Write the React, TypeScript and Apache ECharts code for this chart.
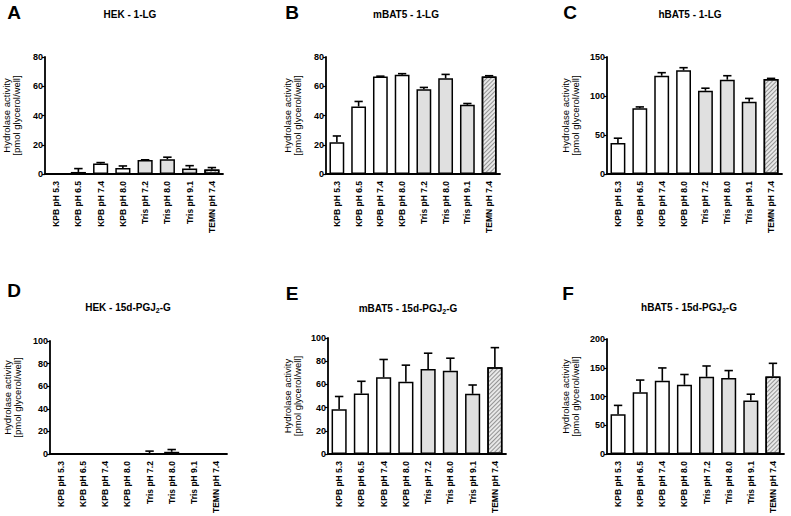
import React, { useEffect, useRef } from "react";
import * as echarts from "echarts";

const categories = ["KPB pH 5.3", "KPB pH 6.5", "KPB pH 7.4", "KPB pH 8.0", "Tris pH 7.2", "Tris pH 8.0", "Tris pH 9.1", "TEMN pH 7.4"];
const bufferType = ["KPB", "KPB", "KPB", "KPB", "Tris", "Tris", "Tris", "TEMN"];

const hek1lgMean = [0, 1.4, 7.1, 4.1, 9.5, 10.1, 3.7, 3.0];
const hek1lgSd = [0, 2.3, 0.7, 1.4, 0.2, 1.4, 2.0, 1.4];
const mbat1lgMean = [21.7, 46.2, 66.7, 67.9, 58.0, 65.4, 47.3, 66.7];
const mbat1lgSd = [4.3, 3.4, 0.2, 0.7, 1.2, 2.7, 0.9, 0.5];
const hbat1lgMean = [39.9, 84.4, 126.0, 132.9, 106.7, 120.9, 92.6, 121.7];
const hbat1lgSd = [6.0, 1.6, 3.9, 3.4, 3.3, 5.1, 4.3, 0.9];
const hekPgMean = [0, 0, 0, 0, 0.3, 2.0, 0, 0];
const hekPgSd = [0, 0, 0, 0, 2.3, 2.0, 0, 0];
const mbatPgMean = [38.7, 52.1, 66.1, 62.4, 73.2, 71.8, 51.9, 74.9];
const mbatPgSd = [10.9, 10.6, 15.4, 14.2, 13.7, 10.8, 7.6, 16.8];
const hbatPgMean = [69.1, 107.4, 127.4, 120.6, 134.3, 132.0, 93.1, 134.9];
const hbatPgSd = [15.5, 21.2, 22.3, 17.7, 18.8, 13.1, 10.9, 22.8];

const panelLetters = ["A", "B", "C", "D", "E", "F"];
const panelTitles = ["HEK - 1-LG", "mBAT5 - 1-LG", "hBAT5 - 1-LG", "HEK - 15d-PGJ{sub|2}-G", "mBAT5 - 15d-PGJ{sub|2}-G", "hBAT5 - 15d-PGJ{sub|2}-G"];
const yMax = [80, 80, 150, 100, 100, 200];
const yInterval = [20, 20, 50, 20, 20, 50];
const yName = "Hydrolase activity\n[pmol glycerol/well]";

const FONT = '"Liberation Sans", Arial, sans-serif';

export default function App() {
  const ref = useRef<HTMLDivElement>(null);
  useEffect(() => {
    document.body.style.margin = "0";
    const chart = echarts.init(ref.current!, null, { renderer: "svg" });
    const means = [hek1lgMean, mbat1lgMean, hbat1lgMean, hekPgMean, mbatPgMean, hbatPgMean];
    const sds = [hek1lgSd, mbat1lgSd, hbat1lgSd, hekPgSd, mbatPgSd, hbatPgSd];
    const grids = [
      { left: 45, top: 57, width: 178, height: 117 },
      { left: 326, top: 57, width: 174, height: 117 },
      { left: 607, top: 57, width: 175, height: 117 },
      { left: 50, top: 341, width: 177, height: 117 },
      { left: 328, top: 338, width: 178, height: 117 },
      { left: 607, top: 339, width: 177, height: 116 },
    ];
    const nameGaps = [24, 24, 27, 28, 26, 27];
    const letterPos = [[14, 12], [292, 12], [570, 12], [14, 290], [292, 293], [568, 293]];
    const titlePos = [[130, 14], [406, 14], [690, 14], [128, 307], [408, 308], [689, 307]];

    const styleFor = (t: string) => {
      if (t === "KPB") return { color: "#ffffff", borderColor: "#000", borderWidth: 1.5 };
      if (t === "Tris") return { color: "#e0e0e0", borderColor: "#000", borderWidth: 1.5 };
      return {
        color: "#e8e8e8",
        borderColor: "#000",
        borderWidth: 1.5,
        decal: {
          symbol: "rect",
          symbolSize: 1,
          color: "rgba(90,90,90,0.6)",
          dashArrayX: [1, 0],
          dashArrayY: [1, 1.3],
          rotation: -Math.PI / 4,
        },
      };
    };

    const xAxes: any[] = [];
    const yAxes: any[] = [];
    const series: any[] = [];
    grids.forEach((g, i) => {
      xAxes.push({
        type: "category",
        gridIndex: i,
        data: categories,
        axisLine: { lineStyle: { color: "#000", width: 1.8 } },
        axisTick: { alignWithLabel: true, length: 4, lineStyle: { color: "#000", width: 1.2 } },
        axisLabel: { rotate: 90, fontSize: 8.5, fontWeight: "bold", color: "#000", margin: 7, fontFamily: FONT, interval: 0 },
      });
      yAxes.push({
        type: "value",
        gridIndex: i,
        min: 0,
        max: yMax[i],
        interval: yInterval[i],
        name: yName,
        nameLocation: "middle",
        nameRotate: 90,
        nameGap: nameGaps[i],
        nameTextStyle: { fontSize: 9.5, lineHeight: 10, color: "#000", fontFamily: FONT },
        axisLine: { show: true, lineStyle: { color: "#000", width: 1.8 } },
        axisTick: { show: true, length: 3, lineStyle: { color: "#000", width: 1.2 } },
        axisLabel: { fontSize: 9, fontWeight: "bold", color: "#000", margin: 2, fontFamily: FONT },
        splitLine: { show: false },
      });
      series.push({
        type: "bar",
        xAxisIndex: i,
        yAxisIndex: i,
        barWidth: "68%",
        data: means[i].map((v, k) => ({ value: v, itemStyle: styleFor(bufferType[k]) })),
        z: 2,
      });
      series.push({
        type: "custom",
        xAxisIndex: i,
        yAxisIndex: i,
        z: 3,
        data: means[i].map((v, k) => [k, v, v + sds[i][k]]),
        renderItem: (params: any, api: any) => {
          const idx = api.value(0);
          const m = api.value(1);
          const top = api.value(2);
          if (top - m <= 0) return { type: "group", children: [] };
          const p0 = api.coord([idx, m]);
          const p1 = api.coord([idx, top]);
          const half = api.size([1, 0])[0] * 0.19;
          const st = { stroke: "#000", lineWidth: 1.6 };
          return {
            type: "group",
            children: [
              { type: "line", shape: { x1: p0[0], y1: p0[1], x2: p1[0], y2: p1[1] }, style: st },
              { type: "line", shape: { x1: p1[0] - half, y1: p1[1], x2: p1[0] + half, y2: p1[1] }, style: st },
            ],
          };
        },
      });
    });

    const graphics: any[] = [];
    panelLetters.forEach((l, i) => {
      graphics.push({
        type: "text",
        x: letterPos[i][0],
        y: letterPos[i][1],
        style: { text: l, fontSize: 19, fontWeight: "bold", fill: "#000", fontFamily: FONT, align: "center", verticalAlign: "middle" },
      });
      graphics.push({
        type: "text",
        x: titlePos[i][0],
        y: titlePos[i][1],
        style: {
          text: panelTitles[i],
          fontSize: 10,
          fontWeight: "bold",
          fill: "#000",
          fontFamily: FONT,
          align: "center",
          verticalAlign: "middle",
          lineHeight: 13,
          rich: {
            sub: { fontSize: 7, fontWeight: "bold", fontFamily: FONT, fill: "#000", verticalAlign: "bottom", lineHeight: 13 },
          },
        },
      });
    });

    chart.setOption({
      animation: false,
      backgroundColor: "#ffffff",
      grid: grids.map((g) => ({ ...g, containLabel: false })),
      xAxis: xAxes,
      yAxis: yAxes,
      series,
      graphic: graphics,
    });
    return () => chart.dispose();
  }, []);
  return <div ref={ref} style={{ width: 791, height: 516, position: "absolute", left: 0, top: 0 }} />;
}
